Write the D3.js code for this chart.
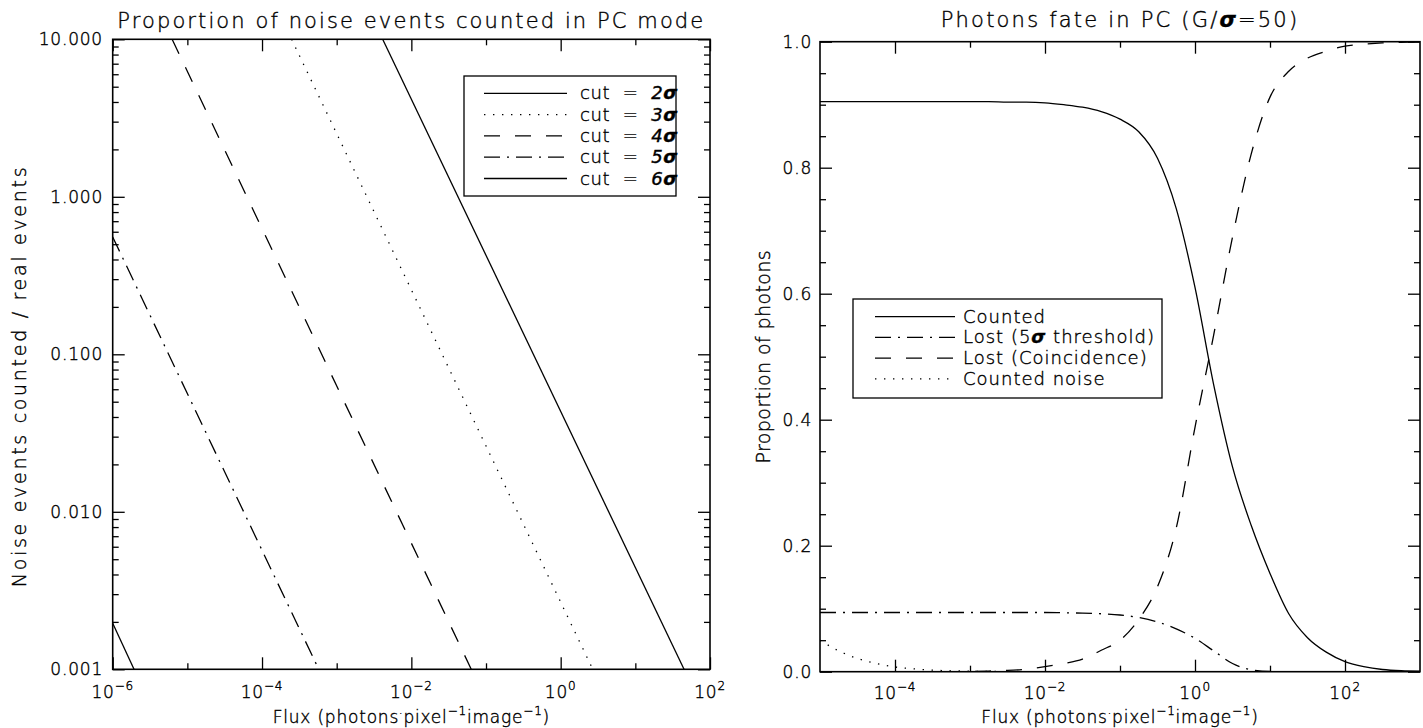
<!DOCTYPE html>
<html>
<head>
<meta charset="utf-8">
<script src="https://cdn.jsdelivr.net/npm/d3@7"></script>
<style>
  body { margin: 0; background: #fff; }
  svg text { font-family: "DejaVu Sans", sans-serif; fill: #000; font-weight: 300;
             stroke: #000; stroke-width: 0.4px; }
</style>
</head>
<body>
<svg id="chart" width="1423" height="728"></svg>
<script>
// ---------- Left panel: noise events counted / real events, straight lines on log-log ----------
const cutSigma      = ["2", "3", "4", "5", "6"];
const cutFluxStart  = [4.13e-3, 2.49e-4, 6.25e-6, 1e-6, 1e-6];
const cutRatioStart = [10, 10, 10, 0.556, 0.00196];
const cutFluxEnd    = [44.9, 2.69, 0.0634, 5.75e-4, 1.93e-6];
const cutRatioEnd   = [0.001, 0.001, 0.001, 0.001, 0.001];

const leftFluxDomain   = [1e-6, 1e2];
const leftRatioDomain  = [1e-3, 10];
const leftFluxMajor    = [1e-6, 1e-4, 1e-2, 1, 1e2];
const leftFluxExpLabel = ["-6", "-4", "-2", "0", "2"];
const leftFluxMinor    = [1e-5, 1e-3, 1e-1, 1e1];
const leftRatioMajor   = [1e-3, 1e-2, 1e-1, 1, 10];
const leftRatioLabels  = ["0.001", "0.010", "0.100", "1.000", "10.000"];

// ---------- Right panel: fate of photons in PC mode ----------
const logFlux = [-5, -4.75, -4.5, -4.25, -4, -3.75, -3.5, -3.25, -3, -2.75, -2.5, -2.25, -2,
                 -1.75, -1.5, -1.25, -1, -0.75, -0.5, -0.25, 0, 0.25, 0.5, 0.75, 1,
                 1.25, 1.5, 1.75, 2, 2.25, 2.5, 2.75, 3];
const counted = [0.905, 0.905, 0.905, 0.905, 0.905, 0.905, 0.905, 0.905, 0.905, 0.905, 0.904, 0.904, 0.903,
                 0.900, 0.896, 0.889, 0.877, 0.857, 0.815, 0.735, 0.610, 0.455, 0.325, 0.232, 0.156,
                 0.092, 0.054, 0.031, 0.016, 0.008, 0.0035, 0.0015, 0.0008];
const lostThreshold = [0.094, 0.094, 0.094, 0.094, 0.094, 0.094, 0.094, 0.094, 0.094, 0.094, 0.094, 0.094, 0.094,
                       0.0935, 0.093, 0.092, 0.090, 0.086, 0.079, 0.068, 0.053, 0.033, 0.013, 0.003, 0.0003,
                       0, 0, 0, 0, 0, 0, 0, 0];
const lostCoincidence = [0, 0, 0, 0, 0, 0, 0, 0, 0.0005, 0.001, 0.002, 0.004, 0.008,
                         0.013, 0.020, 0.034, 0.050, 0.083, 0.135, 0.228, 0.388, 0.535, 0.690, 0.822, 0.912,
                         0.953, 0.974, 0.985, 0.993, 0.996, 0.998, 0.999, 1.0];
const countedNoise = [0.050, 0.033, 0.021, 0.013, 0.0075, 0.0045, 0.0025, 0.0014, 0.0008, 0.0004, 0.0002, 0.0001, 0,
                      0, 0, 0, 0, 0, 0, 0, 0, 0, 0, 0, 0,
                      0, 0, 0, 0, 0, 0, 0, 0];

const rightFluxDomain   = [1e-5, 1e3];
const rightFluxMajor    = [1e-4, 1e-2, 1, 1e2];
const rightFluxExpLabel = ["-4", "-2", "0", "2"];
const rightFluxMinor    = [1e-3, 1e-1, 1e1];
const rightPropMajor    = [0, 0.2, 0.4, 0.6, 0.8, 1.0];
const rightPropLabels   = ["0.0", "0.2", "0.4", "0.6", "0.8", "1.0"];
const rightPropMinor    = [0.05, 0.1, 0.15, 0.25, 0.3, 0.35, 0.45, 0.5, 0.55, 0.65, 0.7, 0.75, 0.85, 0.9, 0.95];

// ---------- line styles ----------
const DASH = {
  solid: null,
  dotted: "1.4 7.6",
  dashed: "16 15",
  dashdot: "16 7 2 7"
};
const cutStyles = ["solid", "dotted", "dashed", "dashdot", "solid"];

const svg = d3.select("#chart");

const PL = { x0: 112.7, x1: 710, y0: 39.3, y1: 669.3 };
const PR = { x0: 820, x1: 1420, y0: 41.7, y1: 671.7 };

const xL = d3.scaleLog().domain(leftFluxDomain).range([PL.x0, PL.x1]);
const yL = d3.scaleLog().domain(leftRatioDomain).range([PL.y1, PL.y0]);
const xR = d3.scaleLog().domain(rightFluxDomain).range([PR.x0, PR.x1]);
const yR = d3.scaleLinear().domain([0, 1]).range([PR.y1, PR.y0]);

const defs = svg.append("defs");
function clip(id, p) {
  defs.append("clipPath").attr("id", id).append("rect")
    .attr("x", p.x0).attr("y", p.y0).attr("width", p.x1 - p.x0).attr("height", p.y1 - p.y0);
}
clip("clipL", PL);
clip("clipR", PR);

function styleAxis(g) {
  g.select(".domain").remove();
  g.selectAll(".tick line").attr("stroke", "#000").attr("stroke-width", 1.3);
  g.selectAll(".tick text").remove();
}

// ticks on all four sides, pointing inward
function frameTicks(p, xs, ys, xMajor, xMinor, yMajor, yMinor, majLen, minLen) {
  const g = svg.append("g");
  const mk = (axis, tx, ty) => g.append("g").attr("transform", `translate(${tx},${ty})`).call(axis).call(styleAxis);
  mk(d3.axisBottom(xs).tickValues(xMajor).tickSizeInner(-majLen).tickSizeOuter(0), 0, p.y1);
  mk(d3.axisBottom(xs).tickValues(xMinor).tickSizeInner(-minLen).tickSizeOuter(0), 0, p.y1);
  mk(d3.axisTop(xs).tickValues(xMajor).tickSizeInner(-majLen).tickSizeOuter(0), 0, p.y0);
  mk(d3.axisTop(xs).tickValues(xMinor).tickSizeInner(-minLen).tickSizeOuter(0), 0, p.y0);
  mk(d3.axisLeft(ys).tickValues(yMajor).tickSizeInner(-majLen).tickSizeOuter(0), p.x0, 0);
  mk(d3.axisLeft(ys).tickValues(yMinor).tickSizeInner(-minLen).tickSizeOuter(0), p.x0, 0);
  mk(d3.axisRight(ys).tickValues(yMajor).tickSizeInner(-majLen).tickSizeOuter(0), p.x1, 0);
  mk(d3.axisRight(ys).tickValues(yMinor).tickSizeInner(-minLen).tickSizeOuter(0), p.x1, 0);
  g.append("rect").attr("x", p.x0).attr("y", p.y0)
    .attr("width", p.x1 - p.x0).attr("height", p.y1 - p.y0)
    .attr("fill", "none").attr("stroke", "#000").attr("stroke-width", 1.6);
}

// log minor ticks 2..9 inside each decade of the ratio axis
const leftRatioMinor = [];
leftRatioMajor.slice(0, -1).forEach(d => { for (let k = 2; k <= 9; k++) leftRatioMinor.push(d * k); });

frameTicks(PL, xL, yL, leftFluxMajor, leftFluxMinor, leftRatioMajor, leftRatioMinor, 12, 6);
frameTicks(PR, xR, yR, rightFluxMajor, rightFluxMinor, rightPropMajor, rightPropMinor, 12, 6);

// power-of-ten labels along the flux axes (one text element per label)
function powLabels(xs, vals, exps, y) {
  vals.forEach((v, i) => {
    const t = svg.append("text").attr("x", xs(v)).attr("y", y)
      .attr("text-anchor", "middle").style("font-size", "17px").style("letter-spacing", "0.8px");
    t.append("tspan").text("10");
    t.append("tspan").attr("dy", -8).style("font-size", "12px").text(exps[i].replace("-", "\u2212"));
  });
}
powLabels(xL, leftFluxMajor, leftFluxExpLabel, 698);
powLabels(xR, rightFluxMajor, rightFluxExpLabel, 699);

leftRatioMajor.forEach((v, i) => {
  svg.append("text").attr("x", 103).attr("y", yL(v)).attr("dy", "0.36em")
    .attr("text-anchor", "end").style("font-size", "17px").style("letter-spacing", "0.8px")
    .text(leftRatioLabels[i]);
});
rightPropMajor.forEach((v, i) => {
  svg.append("text").attr("x", 812).attr("y", yR(v)).attr("dy", "0.36em")
    .attr("text-anchor", "end").style("font-size", "17px").style("letter-spacing", "0.8px")
    .text(rightPropLabels[i]);
});

// flux axis titles
function fluxTitle(cx, y) {
  const t = svg.append("text").attr("x", cx).attr("y", y).attr("text-anchor", "middle")
    .style("font-size", "17px").style("letter-spacing", "0.8px");
  t.append("tspan").text("Flux (photons");
  t.append("tspan").attr("dy", -6).style("font-size", "11px").text("\u00b7");
  t.append("tspan").attr("dy", 6).text("pixel");
  t.append("tspan").attr("dy", -8).style("font-size", "12px").text("\u22121");
  t.append("tspan").attr("dy", 8).text("image");
  t.append("tspan").attr("dy", -8).style("font-size", "12px").text("\u22121");
  t.append("tspan").attr("dy", 8).text(")");
}
fluxTitle((PL.x0 + PL.x1) / 2, 723);
fluxTitle((PR.x0 + PR.x1) / 2, 723);

// vertical axis titles
svg.append("text").attr("transform", `translate(26,376) rotate(-90)`)
  .attr("text-anchor", "middle").style("font-size", "19px").style("letter-spacing", "2.7px")
  .text("Noise events counted / real events");
svg.append("text").attr("transform", `translate(770,${(PR.y0 + PR.y1) / 2}) rotate(-90)`)
  .attr("text-anchor", "middle").style("font-size", "19px").style("letter-spacing", "0.4px")
  .text("Proportion of photons");

// panel titles
svg.append("text").attr("x", (PL.x0 + PL.x1) / 2).attr("y", 28).attr("text-anchor", "middle")
  .style("font-size", "21px").style("letter-spacing", "2.1px")
  .text("Proportion of noise events counted in PC mode");
{
  const t = svg.append("text").attr("x", (PR.x0 + PR.x1) / 2).attr("y", 27).attr("text-anchor", "middle")
    .style("font-size", "21px").style("letter-spacing", "2.2px");
  t.append("tspan").text("Photons fate in PC (G/");
  t.append("tspan").style("font-weight", "bold").style("font-style", "italic").text("\u03c3");
  t.append("tspan").text("=50)");
}

// ---------- left panel curves ----------
const gL = svg.append("g").attr("clip-path", "url(#clipL)");
const lineL = d3.line().x(d => xL(d[0])).y(d => yL(d[1]));
cutSigma.forEach((s, i) => {
  const pts = [[cutFluxStart[i], cutRatioStart[i]], [cutFluxEnd[i], cutRatioEnd[i]]];
  gL.append("path").attr("d", lineL(pts)).attr("fill", "none").attr("stroke", "#000")
    .attr("stroke-width", 1.3).attr("stroke-dasharray", DASH[cutStyles[i]]);
});

// ---------- right panel curves ----------
const gR = svg.append("g").attr("clip-path", "url(#clipR)");
const lineR = d3.line().x(d => xR(d[0])).y(d => yR(d[1])).curve(d3.curveMonotoneX);
const rightSeries = [
  { name: "Counted", vals: counted, style: "solid" },
  { name: "Lost (5\u03c3 threshold)", vals: lostThreshold, style: "dashdot" },
  { name: "Lost (Coincidence)", vals: lostCoincidence, style: "dashed" },
  { name: "Counted noise", vals: countedNoise, style: "dotted" }
];
rightSeries.forEach(s => {
  const pts = logFlux.map((e, i) => [Math.pow(10, e), s.vals[i]]);
  gR.append("path").attr("d", lineR(pts)).attr("fill", "none").attr("stroke", "#000")
    .attr("stroke-width", 1.3).attr("stroke-dasharray", DASH[s.style]);
});

// ---------- legends ----------
{
  const box = { x: 464, y: 76, w: 212, h: 120 };
  const g = svg.append("g");
  g.append("rect").attr("x", box.x).attr("y", box.y).attr("width", box.w).attr("height", box.h)
    .attr("fill", "#fff").attr("stroke", "#000").attr("stroke-width", 1.3);
  cutSigma.forEach((s, i) => {
    const y = 93.3 + i * 21.3;
    g.append("line").attr("x1", 484).attr("x2", 567).attr("y1", y).attr("y2", y)
      .attr("stroke", "#000").attr("stroke-width", 1.3).attr("stroke-dasharray", DASH[cutStyles[i]]);
    const t = g.append("text").attr("x", 580).attr("y", y + 6).style("font-size", "18px")
      .style("letter-spacing", "0.6px").style("white-space", "pre");
    t.append("tspan").text("cut  =  ");
    t.append("tspan").style("font-style", "italic").text(s);
    t.append("tspan").style("font-weight", "bold").style("font-style", "italic").text("\u03c3");
  });
}
{
  const box = { x: 853, y: 299, w: 309, h: 99 };
  const g = svg.append("g");
  g.append("rect").attr("x", box.x).attr("y", box.y).attr("width", box.w).attr("height", box.h)
    .attr("fill", "#fff").attr("stroke", "#000").attr("stroke-width", 1.3);
  rightSeries.forEach((s, i) => {
    const y = 316.7 + i * 20.7;
    g.append("line").attr("x1", 875).attr("x2", 955).attr("y1", y).attr("y2", y)
      .attr("stroke", "#000").attr("stroke-width", 1.3).attr("stroke-dasharray", DASH[s.style]);
    const t = g.append("text").attr("x", 963).attr("y", y + 6).style("font-size", "18px")
      .style("letter-spacing", "1px");
    if (i === 1) {
      t.append("tspan").text("Lost (5");
      t.append("tspan").style("font-weight", "bold").style("font-style", "italic").text("\u03c3");
      t.append("tspan").text(" threshold)");
    } else {
      t.text(s.name);
    }
  });
}
</script>
</body>
</html>
